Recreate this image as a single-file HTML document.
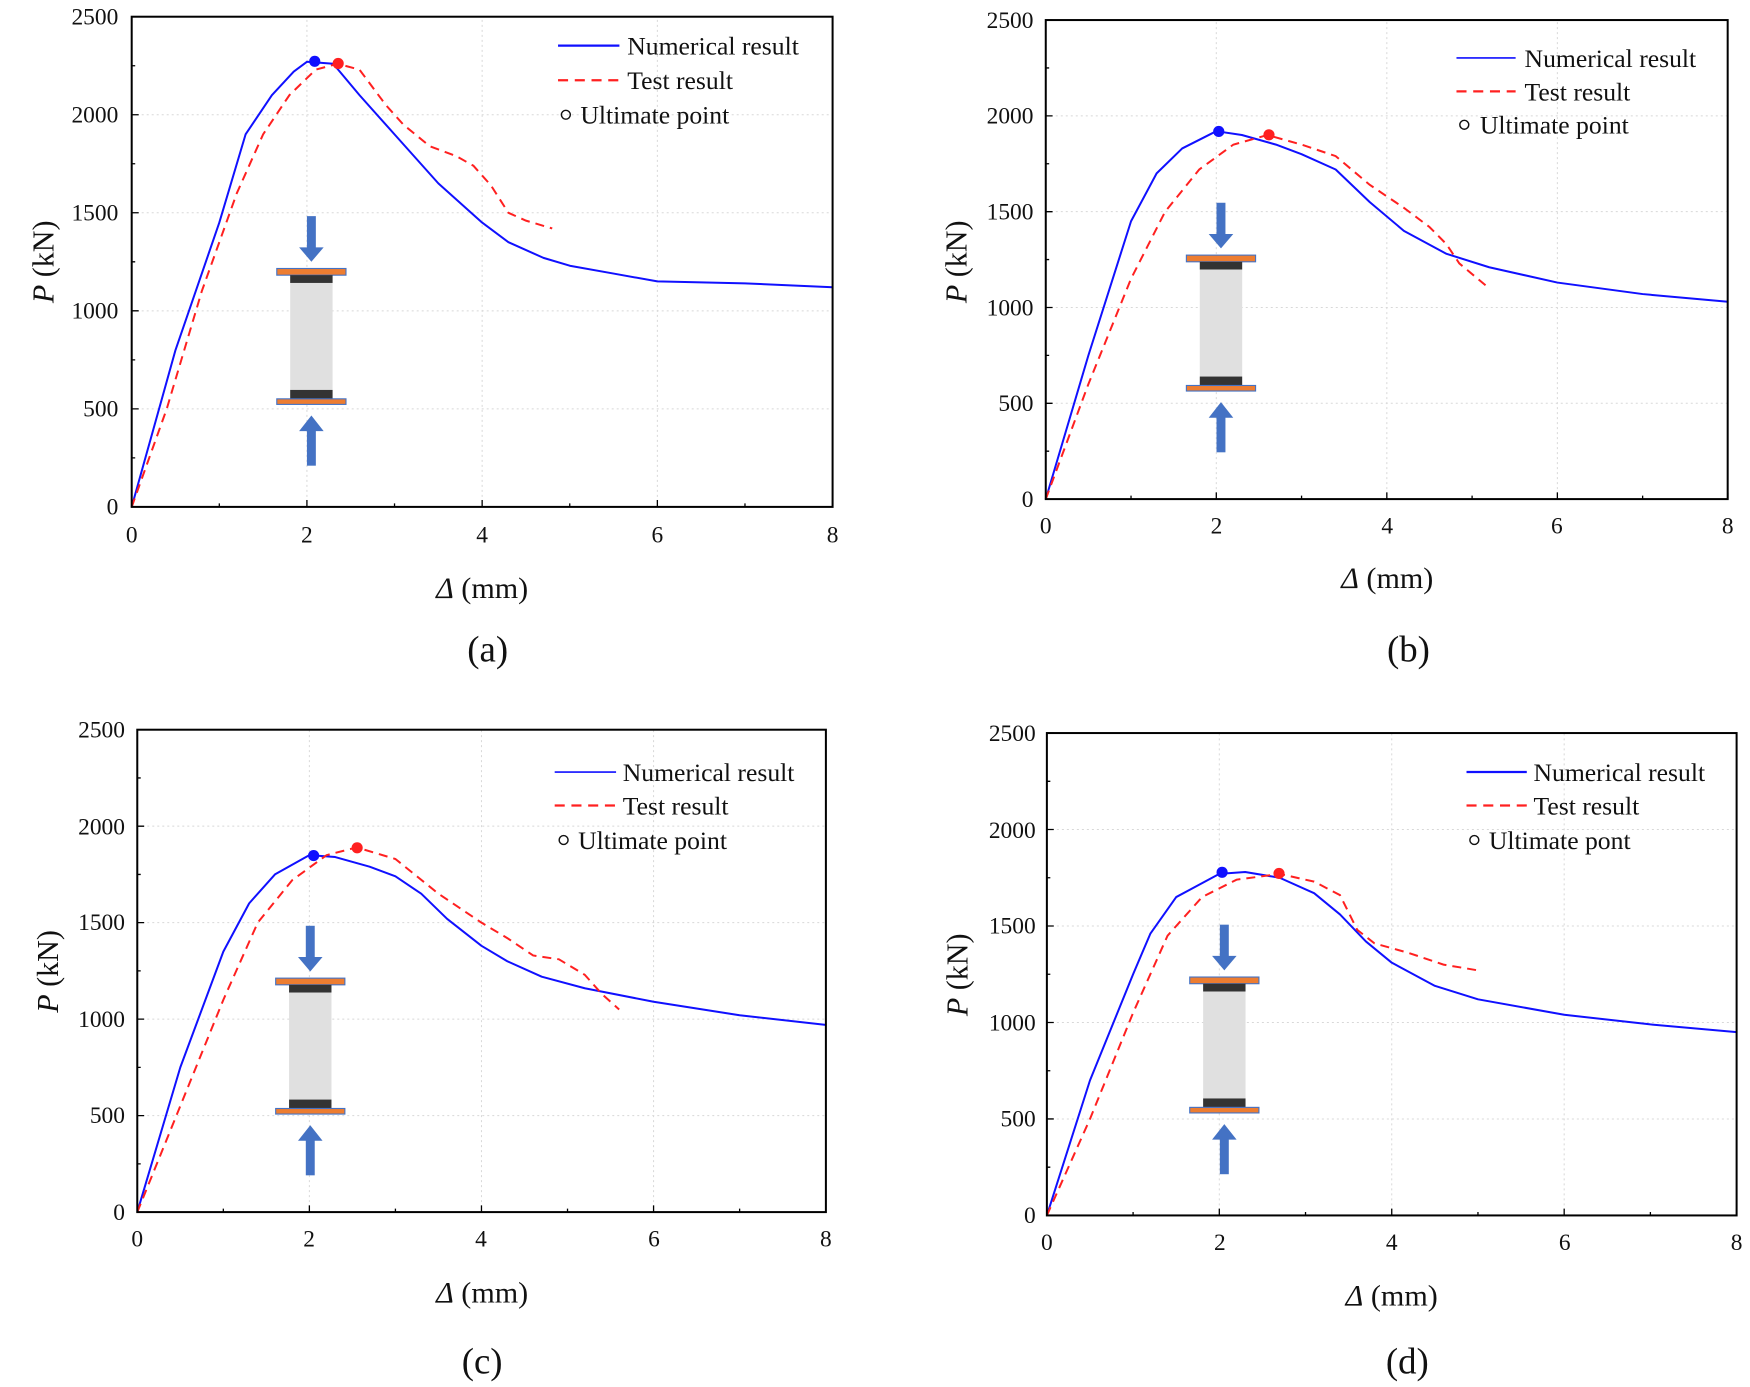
<!DOCTYPE html>
<html><head><meta charset="utf-8"><style>
html,body{margin:0;padding:0;background:#fff}
svg{display:block}
text{font-family:"Liberation Serif",serif;fill:#111}
.tk{font-size:21px}
.lg{font-size:23px}
.ax{font-size:27px}
.cap{font-size:33px}
.num{fill:none;stroke:#1010ff;stroke-width:2;vector-effect:non-scaling-stroke;stroke-linejoin:round}
.tst{fill:none;stroke:#ff2020;stroke-width:2;stroke-dasharray:9,6;vector-effect:non-scaling-stroke}
.grid{stroke:#d8d8d8;stroke-width:1;stroke-dasharray:2,3;vector-effect:non-scaling-stroke;fill:none}
.tick{stroke:#000;stroke-width:1.3;vector-effect:non-scaling-stroke;fill:none}
.frame{fill:none;stroke:#000;stroke-width:1.8}
</style></head><body>
<svg width="1750" height="1387" viewBox="0 0 1568 1245" preserveAspectRatio="none" xmlns="http://www.w3.org/2000/svg">
<defs>
<g id="spec">
 <rect x="-4" y="-47" width="8" height="30" fill="#4472c4"/>
 <polygon points="-11,-19 11,-19 0,-6" fill="#4472c4"/>
 <rect x="-31" y="0" width="62" height="6" fill="#ed7d31" stroke="#4472c4" stroke-width="1"/>
 <rect x="-19" y="6" width="38" height="7" fill="#333"/>
 <rect x="-19" y="13" width="38" height="96" fill="#e0e0e0"/>
 <rect x="-19" y="109" width="38" height="8" fill="#333"/>
 <rect x="-31" y="117" width="62" height="5" fill="#ed7d31" stroke="#4472c4" stroke-width="1"/>
 <rect x="-4" y="144" width="8" height="33" fill="#4472c4"/>
 <polygon points="-11,146 11,146 0,132" fill="#4472c4"/>
</g>
<g id="gt">
 <path class="grid" d="M2 0V2500M4 0V2500M6 0V2500M0 500H8M0 1000H8M0 1500H8M0 2000H8"/>
 <path class="tick" d="M0 0V35M2 0V35M4 0V35M6 0V35M8 0V35M1 0V18M3 0V18M5 0V18M7 0V18
 M0 500H0.08M0 1000H0.08M0 1500H0.08M0 2000H0.08M0 2500H0.08M0 250H0.04M0 750H0.04M0 1250H0.04M0 1750H0.04M0 2250H0.04"/>
</g>
</defs>

<!-- Panel a -->
<g transform="translate(118,455) scale(78.5,-0.176)">
 <use href="#gt"/>
 <polyline class="num" points="0,0 0.5,800 1,1450 1.3,1900 1.6,2100 1.85,2220 2,2270 2.3,2260 2.6,2100 3,1900 3.5,1650 4,1450 4.3,1350 4.7,1270 5,1230 5.5,1190 6,1150 7,1140 8,1120"/>
 <polyline class="tst" points="0,0 0.4,500 0.8,1100 1.2,1600 1.5,1900 1.8,2100 2.1,2230 2.35,2260 2.6,2230 2.9,2050 3.1,1950 3.4,1840 3.7,1790 3.9,1740 4.1,1640 4.3,1500 4.5,1460 4.8,1420"/>
</g>
<rect class="frame" x="118" y="15" width="628" height="440"/>
<circle cx="282" cy="55" r="5" fill="#1010ff"/><circle cx="303" cy="57" r="5" fill="#ff2020"/>
<use href="#spec" x="279" y="241"/>
<line x1="500" y1="41" x2="555" y2="41" stroke="#1010ff" stroke-width="2"/>
<line x1="500" y1="72" x2="555" y2="72" stroke="#ff2020" stroke-width="2" stroke-dasharray="9,6"/>
<circle cx="507" cy="103" r="4" fill="none" stroke="#111" stroke-width="1.3"/>
<text class="lg" x="562" y="49">Numerical result</text>
<text class="lg" x="562" y="80">Test result</text>
<text class="lg" x="520" y="111">Ultimate point</text>
<g class="tk" text-anchor="end"><text x="106" y="462">0</text><text x="106" y="374">500</text><text x="106" y="286">1000</text><text x="106" y="198">1500</text><text x="106" y="110">2000</text><text x="106" y="22">2500</text></g>
<g class="tk" text-anchor="middle"><text x="118" y="487">0</text><text x="275" y="487">2</text><text x="432" y="487">4</text><text x="589" y="487">6</text><text x="746" y="487">8</text></g>
<text class="ax" x="432" y="537" text-anchor="middle"><tspan font-style="italic">Δ</tspan> (mm)</text>
<text class="ax" transform="translate(48,235) rotate(-90)" text-anchor="middle"><tspan font-style="italic">P</tspan> (kN)</text>
<text class="cap" x="437" y="594" text-anchor="middle">(a)</text>

<!-- Panel b -->
<g transform="translate(937,448) scale(76.4,-0.172)">
 <use href="#gt"/>
 <polyline class="num" points="0,0 0.5,750 1,1450 1.3,1700 1.6,1830 2,1920 2.3,1900 2.7,1850 3,1800 3.4,1720 3.8,1550 4.2,1400 4.7,1280 5.2,1210 6,1130 7,1070 8,1030"/>
 <polyline class="tst" points="0,0 0.5,600 1,1150 1.4,1500 1.8,1720 2.2,1850 2.6,1900 3,1850 3.4,1790 3.8,1640 4.2,1520 4.5,1420 4.7,1330 4.85,1230 5.2,1100"/>
</g>
<rect class="frame" x="937" y="18" width="611" height="430"/>
<circle cx="1092" cy="118" r="5" fill="#1010ff"/><circle cx="1137" cy="121" r="5" fill="#ff2020"/>
<use href="#spec" x="1094" y="229"/>
<line x1="1305" y1="52" x2="1358" y2="52" stroke="#1010ff" stroke-width="1.5"/>
<line x1="1305" y1="82" x2="1358" y2="82" stroke="#ff2020" stroke-width="2" stroke-dasharray="9,6"/>
<circle cx="1312" cy="112" r="4" fill="none" stroke="#111" stroke-width="1.3"/>
<text class="lg" x="1366" y="60">Numerical result</text>
<text class="lg" x="1366" y="90">Test result</text>
<text class="lg" x="1326" y="120">Ultimate point</text>
<g class="tk" text-anchor="end"><text x="926" y="455">0</text><text x="926" y="369">500</text><text x="926" y="283">1000</text><text x="926" y="197">1500</text><text x="926" y="111">2000</text><text x="926" y="25">2500</text></g>
<g class="tk" text-anchor="middle"><text x="937" y="479">0</text><text x="1090" y="479">2</text><text x="1243" y="479">4</text><text x="1395" y="479">6</text><text x="1548" y="479">8</text></g>
<text class="ax" x="1243" y="528" text-anchor="middle"><tspan font-style="italic">Δ</tspan> (mm)</text>
<text class="ax" transform="translate(866,235) rotate(-90)" text-anchor="middle"><tspan font-style="italic">P</tspan> (kN)</text>
<text class="cap" x="1262" y="594" text-anchor="middle">(b)</text>

<!-- Panel c -->
<g transform="translate(123,1088) scale(77.1,-0.1732)">
 <use href="#gt"/>
 <polyline class="num" points="0,0 0.5,750 1,1350 1.3,1600 1.6,1750 2,1850 2.3,1840 2.7,1790 3,1740 3.3,1650 3.6,1520 4,1380 4.3,1300 4.7,1220 5.2,1160 6,1090 7,1020 8,970"/>
 <polyline class="tst" points="0,0 0.5,550 1,1100 1.4,1500 1.8,1720 2.2,1850 2.55,1890 3,1830 3.5,1650 4,1500 4.3,1420 4.6,1330 4.9,1310 5.2,1230 5.4,1130 5.6,1050"/>
</g>
<rect class="frame" x="123" y="655" width="617" height="433"/>
<circle cx="281" cy="768" r="5" fill="#1010ff"/><circle cx="320" cy="761" r="5" fill="#ff2020"/>
<use href="#spec" x="278" y="878"/>
<line x1="497" y1="693" x2="552" y2="693" stroke="#1010ff" stroke-width="1.5"/>
<line x1="497" y1="723" x2="552" y2="723" stroke="#ff2020" stroke-width="2" stroke-dasharray="9,6"/>
<circle cx="505" cy="754" r="4" fill="none" stroke="#111" stroke-width="1.3"/>
<text class="lg" x="558" y="701">Numerical result</text>
<text class="lg" x="558" y="731">Test result</text>
<text class="lg" x="518" y="762">Ultimate point</text>
<g class="tk" text-anchor="end"><text x="112" y="1095">0</text><text x="112" y="1008">500</text><text x="112" y="922">1000</text><text x="112" y="835">1500</text><text x="112" y="749">2000</text><text x="112" y="662">2500</text></g>
<g class="tk" text-anchor="middle"><text x="123" y="1119">0</text><text x="277" y="1119">2</text><text x="431" y="1119">4</text><text x="586" y="1119">6</text><text x="740" y="1119">8</text></g>
<text class="ax" x="432" y="1169" text-anchor="middle"><tspan font-style="italic">Δ</tspan> (mm)</text>
<text class="ax" transform="translate(52,872) rotate(-90)" text-anchor="middle"><tspan font-style="italic">P</tspan> (kN)</text>
<text class="cap" x="432" y="1233" text-anchor="middle">(c)</text>

<!-- Panel d -->
<g transform="translate(938,1091) scale(77.25,-0.1732)">
 <use href="#gt"/>
 <polyline class="num" points="0,0 0.5,700 1,1250 1.2,1460 1.5,1650 2,1770 2.3,1780 2.7,1750 3.1,1670 3.4,1560 3.7,1420 4,1310 4.5,1190 5,1120 6,1040 7,990 8,950"/>
 <polyline class="tst" points="0,0 0.5,500 1,1050 1.4,1450 1.8,1650 2.2,1740 2.7,1770 3.1,1730 3.4,1660 3.6,1480 3.8,1410 4.2,1360 4.6,1300 5,1270"/>
</g>
<rect class="frame" x="938" y="658" width="618" height="433"/>
<circle cx="1095" cy="783" r="5" fill="#1010ff"/><circle cx="1146" cy="784" r="5" fill="#ff2020"/>
<use href="#spec" x="1097" y="877"/>
<line x1="1314" y1="693" x2="1368" y2="693" stroke="#1010ff" stroke-width="2"/>
<line x1="1314" y1="723" x2="1368" y2="723" stroke="#ff2020" stroke-width="2" stroke-dasharray="9,6"/>
<circle cx="1321" cy="754" r="4" fill="none" stroke="#111" stroke-width="1.3"/>
<text class="lg" x="1374" y="701">Numerical result</text>
<text class="lg" x="1374" y="731">Test result</text>
<text class="lg" x="1334" y="762">Ultimate pont</text>
<g class="tk" text-anchor="end"><text x="928" y="1098">0</text><text x="928" y="1011">500</text><text x="928" y="925">1000</text><text x="928" y="838">1500</text><text x="928" y="752">2000</text><text x="928" y="665">2500</text></g>
<g class="tk" text-anchor="middle"><text x="938" y="1122">0</text><text x="1093" y="1122">2</text><text x="1247" y="1122">4</text><text x="1402" y="1122">6</text><text x="1556" y="1122">8</text></g>
<text class="ax" x="1247" y="1172" text-anchor="middle"><tspan font-style="italic">Δ</tspan> (mm)</text>
<text class="ax" transform="translate(867,875) rotate(-90)" text-anchor="middle"><tspan font-style="italic">P</tspan> (kN)</text>
<text class="cap" x="1261" y="1233" text-anchor="middle">(d)</text>
</svg>
</body></html>
